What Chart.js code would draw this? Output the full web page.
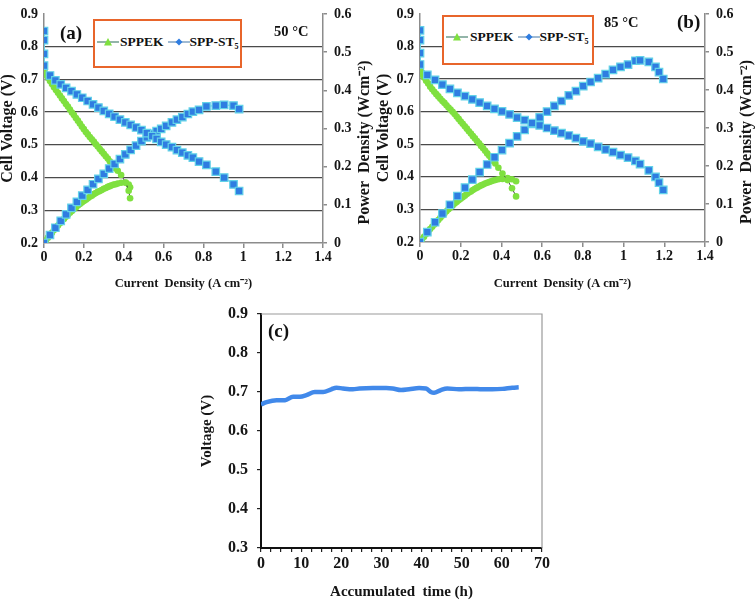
<!DOCTYPE html>
<html><head><meta charset="utf-8">
<script src="https://cdn.jsdelivr.net/npm/chart.js@4.4.1/dist/chart.umd.min.js"></script>
<style>
html,body{margin:0;padding:0;background:#fff;}
body{width:756px;height:600px;position:relative;overflow:hidden;font-family:"Liberation Serif","Times New Roman",serif;}
.cv{position:absolute;}
.lbl{position:absolute;font-weight:bold;color:#111;white-space:nowrap;line-height:1;}
.leg{position:absolute;border:2px solid #e8652b;background:#fff;box-sizing:border-box;}
.row{position:absolute;display:flex;align-items:center;height:16px;font-weight:bold;font-size:13.5px;color:#111;white-space:nowrap;}
.row svg{display:block;}
</style></head><body>
<div class="cv" style="left:0;top:0;width:376px;height:290px"><canvas id="ca"></canvas></div>
<div class="cv" style="left:376px;top:0;width:380px;height:290px"><canvas id="cb"></canvas></div>
<div class="cv" style="left:200px;top:290px;width:380px;height:310px"><canvas id="cc"></canvas></div>

<div class="leg" style="left:93px;top:19px;width:149px;height:49px"></div>
<div class="row" style="left:97px;top:34px">
  <svg width="22" height="10"><line x1="0" y1="5" x2="22" y2="5" stroke="#6f9c8c" stroke-width="1.5"/><polygon points="11,1 15,8.5 7,8.5" fill="#7fe03f"/></svg>
  <span style="margin-left:1px">SPPEK</span>
  <svg width="22" height="10" style="margin-left:4px"><line x1="0" y1="5" x2="22" y2="5" stroke="#7fa3c4" stroke-width="1.5"/><polygon points="11,1.5 14.5,5 11,8.5 7.5,5" fill="#2f7de1"/></svg>
  <span>SPP-ST₅</span>
</div>
<div class="lbl" style="left:60px;top:23px;font-size:19px">(a)</div>
<div class="lbl" style="left:274px;top:24px;font-size:14.5px">50 °C</div>

<div class="leg" style="left:442px;top:15px;width:152px;height:50px"></div>
<div class="row" style="left:446px;top:29px">
  <svg width="22" height="10"><line x1="0" y1="5" x2="22" y2="5" stroke="#6f9c8c" stroke-width="1.5"/><polygon points="11,1 15,8.5 7,8.5" fill="#7fe03f"/></svg>
  <span style="margin-left:2px">SPPEK</span>
  <svg width="22" height="10" style="margin-left:4px"><line x1="0" y1="5" x2="22" y2="5" stroke="#7fa3c4" stroke-width="1.5"/><polygon points="11,1.5 14.5,5 11,8.5 7.5,5" fill="#2f7de1"/></svg>
  <span>SPP-ST₅</span>
</div>
<div class="lbl" style="left:677px;top:12px;font-size:19px">(b)</div>
<div class="lbl" style="left:604px;top:15px;font-size:14.5px">85 °C</div>

<div class="lbl" style="left:268px;top:321px;font-size:19px">(c)</div>

<script>
// ---------- tick labels ----------
const currentTicks = [0, 0.2, 0.4, 0.6, 0.8, 1, 1.2, 1.4];
const voltageTicks = [0.2, 0.3, 0.4, 0.5, 0.6, 0.7, 0.8, 0.9];
const powerTicks = [0, 0.1, 0.2, 0.3, 0.4, 0.5, 0.6];
const timeTicks = [0, 10, 20, 30, 40, 50, 60, 70];
const durVoltTicks = [0.3, 0.4, 0.5, 0.6, 0.7, 0.8, 0.9];
const seriesNames = ['SPPEK', 'SPP-ST₅'];

// ---------- (a) 50 °C ----------
const aSppekI = [0,0.005,0.01,0.02,0.03,0.04,0.05,0.06,0.07,0.08,0.09,0.10,0.11,0.12,0.13,0.14,0.15,0.16,0.17,0.18,0.19,0.20,0.21,0.22,0.23,0.24,0.25,0.26,0.27,0.28,0.29,0.30,0.31,0.32,0.33,0.34,0.35,0.36,0.37,0.387,0.41,0.425,0.432];
const aSppekV = [0.73,0.72,0.714,0.705,0.695,0.686,0.676,0.668,0.659,0.651,0.642,0.634,0.625,0.617,0.608,0.599,0.591,0.582,0.574,0.565,0.556,0.548,0.539,0.532,0.524,0.517,0.510,0.502,0.495,0.487,0.480,0.473,0.465,0.458,0.450,0.443,0.436,0.428,0.421,0.408,0.385,0.36,0.337];
const aSppekP = [0,0.004,0.007,0.014,0.021,0.027,0.034,0.040,0.046,0.052,0.058,0.063,0.069,0.074,0.079,0.084,0.089,0.093,0.098,0.102,0.106,0.110,0.113,0.117,0.121,0.124,0.128,0.131,0.134,0.136,0.139,0.142,0.144,0.147,0.149,0.151,0.153,0.154,0.156,0.158,0.158,0.153,0.146];
const aStIV = [0,0,0,0,0.03,0.057,0.084,0.111,0.138,0.165,0.192,0.219,0.246,0.273,0.3,0.327,0.354,0.381,0.408,0.435,0.462,0.489,0.516,0.543,0.565,0.588,0.613,0.642,0.667,0.694,0.722,0.747,0.778,0.815,0.862,0.904,0.951,0.979];
const aStV = [0.848,0.82,0.778,0.742,0.712,0.697,0.685,0.674,0.664,0.654,0.644,0.634,0.624,0.614,0.604,0.595,0.586,0.577,0.569,0.561,0.553,0.545,0.536,0.527,0.518,0.509,0.501,0.493,0.484,0.476,0.468,0.461,0.449,0.439,0.418,0.40,0.379,0.359];
const aStIP = [0,0.03,0.057,0.084,0.111,0.138,0.165,0.192,0.219,0.246,0.273,0.3,0.327,0.354,0.381,0.408,0.435,0.462,0.489,0.516,0.543,0.565,0.588,0.613,0.642,0.667,0.694,0.722,0.747,0.778,0.815,0.862,0.904,0.951,0.979];
const aStP = [0,0.021,0.040,0.058,0.075,0.092,0.108,0.124,0.139,0.154,0.168,0.181,0.195,0.207,0.220,0.232,0.244,0.255,0.267,0.277,0.286,0.293,0.299,0.307,0.316,0.323,0.330,0.338,0.344,0.349,0.358,0.360,0.362,0.360,0.351];

// ---------- (b) 85 °C ----------
const bSppekI = [0,0.005,0.01,0.02,0.03,0.04,0.05,0.06,0.07,0.08,0.09,0.10,0.11,0.12,0.13,0.14,0.15,0.16,0.17,0.18,0.19,0.20,0.21,0.22,0.23,0.24,0.25,0.26,0.27,0.28,0.29,0.30,0.31,0.32,0.33,0.34,0.35,0.36,0.37,0.385,0.405,0.43,0.452,0.472];
const bSppekV = [0.74,0.725,0.714,0.705,0.695,0.687,0.677,0.669,0.661,0.654,0.647,0.640,0.633,0.627,0.620,0.613,0.607,0.600,0.593,0.585,0.578,0.570,0.563,0.555,0.548,0.540,0.533,0.525,0.518,0.510,0.503,0.495,0.488,0.480,0.472,0.465,0.457,0.449,0.441,0.428,0.41,0.39,0.365,0.34];
const bSppekP = [0,0.004,0.007,0.014,0.021,0.027,0.034,0.040,0.046,0.052,0.058,0.064,0.070,0.075,0.081,0.086,0.091,0.096,0.101,0.105,0.110,0.114,0.118,0.122,0.126,0.130,0.133,0.137,0.140,0.143,0.146,0.149,0.151,0.154,0.156,0.158,0.160,0.162,0.163,0.165,0.166,0.168,0.165,0.160];
const bStIV = [0,0,0,0,0.036,0.074,0.11,0.147,0.184,0.221,0.257,0.293,0.33,0.366,0.403,0.44,0.477,0.514,0.55,0.588,0.624,0.66,0.695,0.731,0.766,0.802,0.838,0.875,0.912,0.948,0.985,1.022,1.058,1.081,1.124,1.157,1.174,1.195];
const bStV = [0.85,0.82,0.78,0.745,0.713,0.698,0.683,0.67,0.658,0.648,0.638,0.628,0.618,0.609,0.601,0.592,0.582,0.574,0.565,0.558,0.55,0.542,0.534,0.527,0.519,0.509,0.502,0.492,0.484,0.476,0.467,0.459,0.449,0.439,0.42,0.40,0.382,0.36];
const bStIP = [0,0.036,0.074,0.11,0.147,0.184,0.221,0.257,0.293,0.33,0.366,0.403,0.44,0.477,0.514,0.55,0.588,0.624,0.66,0.695,0.731,0.766,0.802,0.838,0.875,0.912,0.948,0.985,1.022,1.058,1.081,1.124,1.157,1.174,1.195];
const bStP = [0,0.026,0.052,0.075,0.098,0.121,0.143,0.164,0.184,0.204,0.223,0.242,0.26,0.278,0.295,0.311,0.328,0.343,0.358,0.371,0.386,0.397,0.41,0.421,0.431,0.442,0.453,0.461,0.467,0.477,0.478,0.474,0.461,0.447,0.429];

// ---------- (c) durability ----------
const cTime = [0,1.4,3.9,6,8,9.7,11.3,13.4,15.5,17.5,18.8,20.4,22.9,24.5,27.9,31.2,32.8,34.9,36.9,39.4,41.1,42.3,43.1,44.8,46.4,49.3,52.6,55.1,57.6,60.1,62.6,64.2];
const cVolt = [0.668,0.674,0.679,0.679,0.688,0.688,0.692,0.700,0.700,0.707,0.711,0.709,0.707,0.709,0.710,0.710,0.709,0.705,0.707,0.710,0.709,0.700,0.698,0.705,0.709,0.707,0.708,0.707,0.707,0.708,0.711,0.712];

// ---------- styles ----------
const GREEN = '#7fe03f';
const BLUE = '#2f7de1';
const BLUE_EDGE = '#62d2e8';
const AX = '#8c8c8c';
const TXT = '#151515';
const SERIF = "'Liberation Serif','Times New Roman',serif";
const f = (size) => ({family: SERIF, size: size, weight: 'bold', lineHeight: 1});

const pts = (xs, ys) => xs.map((x, i) => ({x: x, y: ys[i]}));
const setTicks = (arr) => (s) => { s.ticks = arr.map(v => ({value: v})); };

const rightTitle = {
  id: 'rightTitle',
  afterDraw(chart, args, opts) {
    const ctx = chart.ctx, a = chart.chartArea;
    ctx.save();
    ctx.translate(a.right + opts.dx, (a.top + a.bottom) / 2 + opts.dy);
    ctx.rotate(-Math.PI / 2);
    ctx.font = "bold 16px " + SERIF;
    ctx.fillStyle = TXT;
    ctx.textAlign = 'center';
    ctx.textBaseline = 'middle';
    ctx.fillText(opts.text, 0, 0);
    ctx.restore();
  }
};

function makeIV(id, g, sI, sV, sP, stIV, stV, stIP, stP) {
  const greenDs = (data, axis) => ({
    label: seriesNames[0], data: data, yAxisID: axis, showLine: true,
    borderColor: '#454545', borderWidth: 1, backgroundColor: GREEN,
    pointStyle: 'circle', pointRadius: 3.3, pointBorderWidth: 0, pointBackgroundColor: GREEN, order: 2
  });
  const blueDs = (data, axis) => ({
    label: seriesNames[1], data: data, yAxisID: axis, showLine: true,
    borderColor: BLUE_EDGE, borderWidth: 1, backgroundColor: BLUE,
    pointStyle: 'rect', pointRadius: 5.3, pointBorderWidth: 1.2, pointBorderColor: BLUE_EDGE, pointBackgroundColor: BLUE, order: 1
  });
  return new Chart(document.getElementById(id), {
    type: 'scatter',
    data: {datasets: [
      blueDs(pts(stIV, stV), 'y'), blueDs(pts(stIP, stP), 'y1'),
      greenDs(pts(sI, sV), 'y'), greenDs(pts(sI, sP), 'y1')
    ]},
    options: {
      responsive: true, maintainAspectRatio: false, animation: false,
      layout: {padding: {top: g.top, left: 0, right: 0, bottom: 0}},
      plugins: {legend: {display: false}, tooltip: {enabled: false},
        rightTitle: {text: 'Power  Density (Wcm⁻²)', dx: 42, dy: 14}},
      scales: {
        x: {type: 'linear', min: 0, max: 1.4, afterBuildTicks: setTicks(currentTicks),
          afterFit: (s) => { s.height = g.xh; },
          grid: {drawOnChartArea: false, drawTicks: true, tickLength: 5, color: AX, lineWidth: 1.5},
          border: {color: AX, width: 1.5},
          ticks: {font: f(14), color: TXT, padding: 2, maxRotation: 0, autoSkip: false, callback: (v) => String(v)},
          title: {display: true, text: 'Current  Density (A cm⁻²)', font: f(12.5), color: TXT, padding: {top: 7, bottom: 0}}
        },
        y: {position: 'left', min: 0.2, max: 0.9, afterBuildTicks: setTicks(voltageTicks),
          afterFit: (s) => { s.width = g.yl; },
          grid: {drawTicks: false, lineWidth: 1.3,
            color: (c) => (c.tick && (c.tick.value < 0.25 || c.tick.value > 0.85)) ? 'rgba(0,0,0,0)' : '#4a4a4a'},
          border: {color: AX, width: 1.5},
          ticks: {font: f(14), color: TXT, padding: 6, callback: (v) => v.toFixed(1)},
          title: {display: true, text: 'Cell Voltage (V)', font: f(16), color: TXT, padding: 0}
        },
        y1: {position: 'right', min: 0, max: 0.6, afterBuildTicks: setTicks(powerTicks),
          afterFit: (s) => { s.width = g.yr; },
          grid: {drawOnChartArea: false, drawTicks: true, tickLength: 4, color: AX, lineWidth: 1.5},
          border: {color: AX, width: 1.5},
          ticks: {font: f(14), color: TXT, padding: 7, callback: (v) => v === 0 ? '0' : v.toFixed(1)}
        }
      }
    },
    plugins: [rightTitle]
  });
}

makeIV('ca', {top: 10, yl: 44, yr: 53, xh: 47}, aSppekI, aSppekV, aSppekP, aStIV, aStV, aStIP, aStP);
makeIV('cb', {top: 7, yl: 44, yr: 51, xh: 48}, bSppekI, bSppekV, bSppekP, bStIV, bStV, bStIP, bStP);

// ---------- (c) ----------
const frame = {
  id: 'frame',
  afterDraw(chart) {
    const ctx = chart.ctx, a = chart.chartArea;
    ctx.save();
    ctx.strokeStyle = '#9a9a9a';
    ctx.lineWidth = 1.2;
    ctx.beginPath();
    ctx.moveTo(a.left, a.top); ctx.lineTo(a.right, a.top); ctx.lineTo(a.right, a.bottom);
    ctx.stroke();
    ctx.restore();
  }
};
const minorTime = [];
for (let t = 0; t <= 70; t += 2.5) minorTime.push(t);

new Chart(document.getElementById('cc'), {
  type: 'line',
  data: {datasets: [{
    label: 'Voltage', data: pts(cTime, cVolt), borderColor: '#4189ea', borderWidth: 4.5,
    pointRadius: 0, cubicInterpolationMode: 'monotone', fill: false
  }]},
  options: {
    responsive: true, maintainAspectRatio: false, animation: false,
    layout: {padding: {top: 24, right: 38, left: 0, bottom: 0}},
    plugins: {legend: {display: false}, tooltip: {enabled: false}},
    scales: {
      x: {type: 'linear', min: 0, max: 70, afterBuildTicks: setTicks(minorTime),
        afterFit: (s) => { s.height = 52; },
        grid: {drawOnChartArea: false, tickLength: 4, color: '#222', lineWidth: 1.2},
        border: {color: '#111', width: 2},
        ticks: {font: f(16), color: TXT, padding: 4, maxRotation: 0, autoSkip: false,
          callback: (v) => timeTicks.includes(v) ? String(v) : ''},
        title: {display: true, text: 'Accumulated  time (h)', font: f(15), color: TXT, padding: {top: 8, bottom: 0}}
      },
      y: {min: 0.3, max: 0.9, afterBuildTicks: setTicks(durVoltTicks),
        afterFit: (s) => { s.width = 61; },
        grid: {drawOnChartArea: false, tickLength: 4, color: '#222', lineWidth: 1.2},
        border: {color: '#111', width: 2},
        ticks: {font: f(16), color: TXT, padding: 9, callback: (v) => v.toFixed(1)},
        title: {display: true, text: 'Voltage (V)', font: f(15), color: TXT, padding: 0}
      }
    }
  },
  plugins: [frame]
});
</script>
</body></html>
